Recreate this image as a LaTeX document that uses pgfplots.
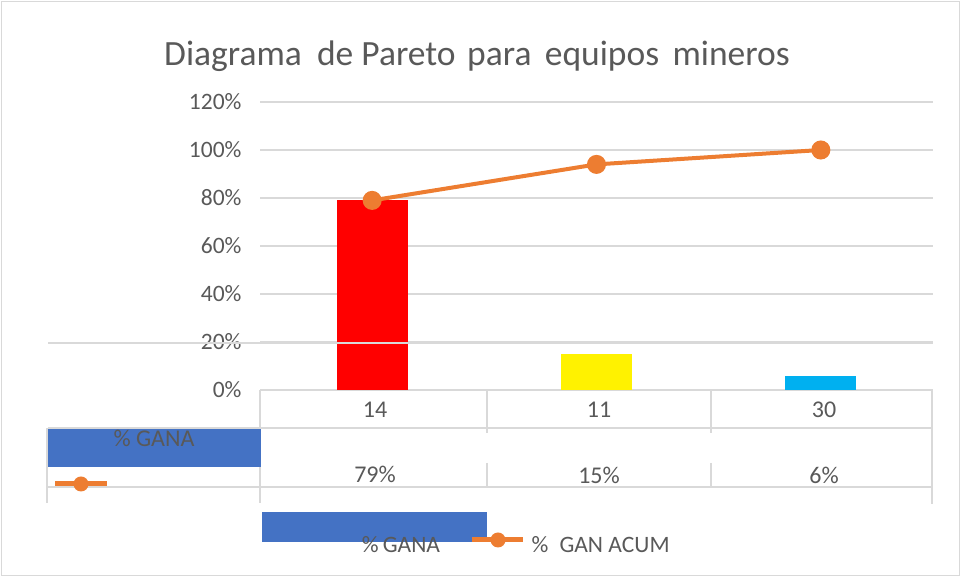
\documentclass[border=0pt]{standalone}
\usepackage{pgfplots}
\pgfplotsset{compat=1.18}
\usepackage{fontspec}
\setmainfont{Carlito}
\definecolor{gridgrey}{HTML}{D9D9D9}
\definecolor{txtgrey}{HTML}{595959}
\definecolor{xlblue}{HTML}{4472C4}
\definecolor{xlorange}{HTML}{ED7D31}
\definecolor{xlcyan}{HTML}{00B0F0}
\begin{document}
\begin{tikzpicture}[x=1pt,y=1pt]
\path (0,0) rectangle (961,577);
\draw[gridgrey, line width=1pt] (1.5,1.5) rectangle (959.5,575.5);
\begin{axis}[
  at={(260pt,187pt)}, anchor=south west,
  scale only axis, width=673pt, height=288pt,
  xmin=-0.5, xmax=2.5, ymin=0, ymax=120,
  axis line style={draw=none},
  xtick=\empty,
  ytick={0,20,...,120},
  yticklabels={0\%,20\%,40\%,60\%,80\%,100\%,120\%},
  major tick length=0pt,
  ymajorgrids, grid style={gridgrey, line width=1.3pt},
  yticklabel style={font=\fontsize{23.5}{28}\selectfont, text=txtgrey, xshift=-15pt},
  clip=false,
]
% % GANA (bars, one colour each)
\addplot[ybar, bar width=71pt, bar shift=0pt, fill=red, draw=none] coordinates {(0,79)};
\addplot[ybar, bar width=71pt, bar shift=0pt, fill=yellow, draw=none] coordinates {(1,15)};
\addplot[ybar, bar width=71pt, bar shift=0pt, fill=xlcyan, draw=none] coordinates {(2,6)};
% % GAN ACUM
\addplot[xlorange, line width=4pt, mark=*, mark size=7.5pt,
  mark options={fill=xlorange, draw=none}] coordinates {(0,79) (1,94) (2,100)};
\end{axis}

% data table, legend and title (pixel coordinates, y downwards)
\begin{scope}[shift={(0,577)}, yscale=-1]
\begin{scope}[gridgrey, line width=1.3pt]
\draw (48,343) -- (933,343);
\draw (48,428) -- (933,428);
\draw (48,487) -- (933,487);
\draw (47,428) -- (47,503);
\draw (260,390) -- (260,503);
\draw (932,390) -- (932,504);
\draw (487,390) -- (487,433) (487,463) -- (487,487);
\draw (711,390) -- (711,433) (711,463) -- (711,487);
\end{scope}
\fill[xlblue] (48,429) rectangle (261,467);
\draw[xlorange, line width=5pt] (55,484) -- (107,484);
\fill[xlorange] (81,484) circle (7.5);
\begin{scope}[every node/.style={text=txtgrey, font=\fontsize{24}{28}\selectfont}]
\node at (154,438) {\% GANA};
\node at (375,410) {14};
\node at (599,410) {11};
\node at (824,410) {30};
\node at (375,474) {79\%};
\node at (599,475) {15\%};
\node at (824,475) {6\%};
\end{scope}
% legend
\fill[xlblue] (262,512) rectangle (487,542);
\draw[xlorange, line width=5pt] (472,540) -- (523,540);
\fill[xlorange] (498,540) circle (7.5);
\node[text=txtgrey, font=\fontsize{23.5}{28}\selectfont] at (401,545) {\%\hspace{-0.05em} GANA};
\node[text=txtgrey, font=\fontsize{23.5}{28}\selectfont, anchor=west] at (528,545) {\%\hspace{0.25em} GAN ACUM};
% title
\node[anchor=base, text=txtgrey, font=\fontsize{35.5}{42}\selectfont] at (477,66)
  {Diagrama\hspace{0.2em} de Pareto\hspace{0.1em} para\hspace{0.15em} equipos\hspace{0.15em} mineros};
\end{scope}
\end{tikzpicture}
\end{document}
